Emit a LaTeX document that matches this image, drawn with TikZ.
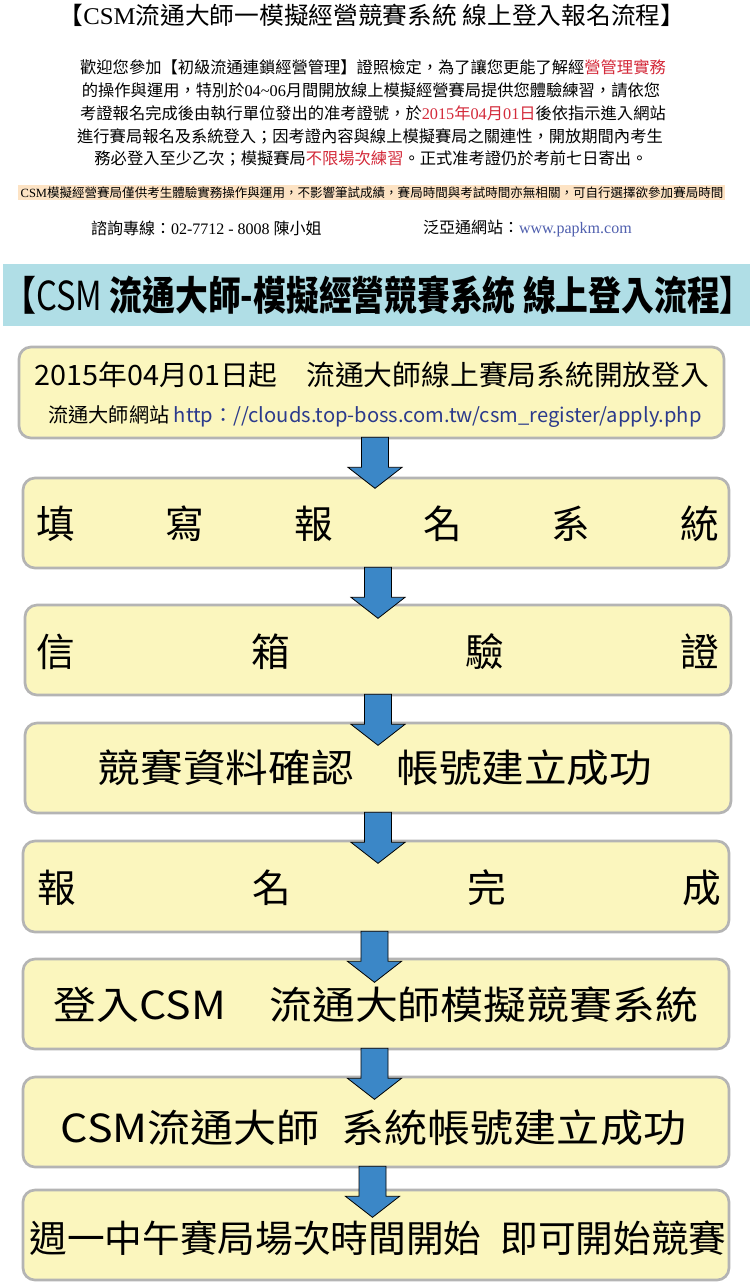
\documentclass[tikz,border=0pt]{standalone}
\usepackage{fontspec}
\usepackage{graphicx}
\setmainfont{Noto Sans CJK TC}
\newfontfamily\tm{Liberation Serif}
\usetikzlibrary{fit,calc}
\definecolor{bannerblue}{HTML}{B0DEE6}
\definecolor{boxfill}{HTML}{FBF6BE}
\definecolor{boxline}{HTML}{B4B4B4}
\definecolor{arrowblue}{HTML}{3B87C7}
\definecolor{redtxt}{HTML}{D42A3A}
\definecolor{peach}{HTML}{FDE3C4}
\definecolor{linkblue}{HTML}{4F5FAE}
\definecolor{urlblue}{HTML}{2B3A8C}
\newcommand\fitw[2]{\resizebox{#1}{\height}{#2}}
\newcommand\fsz[1]{\fontsize{#1}{#1}\selectfont}
\tikzset{
  flowbox/.style={draw=boxline, line width=2pt, fill=boxfill, rounded corners=9pt, inner sep=0pt},
  txt/.style={inner sep=0pt, outer sep=0pt, text=black},
  blockarr/.style={draw=black, line width=0.6pt, fill=arrowblue, line join=miter},
  downarrow/.pic={\path[blockarr] (-13.5,-2) -- (-13.5,28) -- (-27,28) -- (0,49) -- (27,28) -- (13.5,28) -- (13.5,-2) -- cycle;}
}
\begin{document}
\begin{tikzpicture}[x=0.75pt,y=-0.75pt]
\useasboundingbox (0,0) rectangle (753,1282);
\fill[white] (0,0) rectangle (753,1282);

% ---- header text ----
\node[txt, font=\fsz{18pt}] (title) at (372,15) {\fitw{470pt}{【{\tm CSM}流通大師一模擬經營競賽系統 線上登入報名流程】}};

\node[txt, font=\fsz{12.2pt}] (p1) at (373,67) {歡迎您參加【初級流通連鎖經營管理】證照檢定，為了讓您更能了解經{\color{redtxt}營管理實務}};
\node[txt, font=\fsz{12.2pt}] (p2) at (371,90) {的操作與運用，特別於{\tm 04\textasciitilde 06}月間開放線上模擬經營賽局提供您體驗練習，請依您};
\node[txt, font=\fsz{12.2pt}] (p3) at (373,113) {考證報名完成後由執行單位發出的准考證號，於{\color{redtxt}{\tm 2015}年{\tm 04}月{\tm 01}日}後依指示進入網站};
\node[txt, font=\fsz{12.2pt}] (p4) at (370,136) {進行賽局報名及系統登入；因考證內容與線上模擬賽局之關連性，開放期間內考生};
\node[txt, font=\fsz{12.2pt}] (p5) at (371,158) {務必登入至少乙次；模擬賽局{\color{redtxt}不限場次練習}。正式准考證仍於考前七日寄出。};

\node[fill=peach, inner sep=0pt, fit={(18,185) (725,200)}] (hl) {};
\node[txt, font=\fsz{9.4pt}] (hltext) at (372,192.5) {\fitw{527pt}{{\tm CSM}模擬經營賽局僅供考生體驗實務操作與運用，不影響筆試成績，賽局時間與考試時間亦無相關，可自行選擇欲參加賽局時間}};

\node[txt, anchor=west, font=\fsz{12pt}] (tel) at (91,228) {諮詢專線：{\tm 02-7712 - 8008 }陳小姐};
\node[txt, anchor=west, font=\fsz{12pt}] (web) at (423,228) {泛亞通網站：{\tm\color{linkblue}www.papkm.com}};

% ---- banner ----
\node[fill=bannerblue, inner sep=0pt, fit={(3,264) (750,326)}] (banner) {};
\node[txt, font=\fsz{30pt}\bfseries] (bannertext) at (378,295) {\fitw{562pt}{【{\mdseries CSM} 流通大師-模擬經營競賽系統 線上登入流程】}};

% ---- flow boxes ----
\node[flowbox, fit={(19,347) (724,438)}] (b1) {};
\node[flowbox, fit={(23,478) (729,568)}] (b2) {};
\node[flowbox, fit={(25,605) (731,695)}] (b3) {};
\node[flowbox, fit={(25,723) (731,813)}] (b4) {};
\node[flowbox, fit={(23,841) (729,932)}] (b5) {};
\node[flowbox, fit={(23,959) (729,1049)}] (b6) {};
\node[flowbox, fit={(23,1077) (729,1167)}] (b7) {};
\node[flowbox, fit={(23,1190) (729,1280)}] (b8) {};

% ---- arrows ----
\pic at (375,0 |- b1.south) {downarrow};
\pic at (378,0 |- b2.south) {downarrow};
\pic at (378,0 |- b3.south) {downarrow};
\pic at (378,0 |- b4.south) {downarrow};
\pic at (374.5,0 |- b5.south) {downarrow};
\pic at (374.5,0 |- b6.south) {downarrow};
\pic at (372.5,0 |- b7.south) {downarrow};

% ---- box texts ----
\node[txt, font=\fsz{21pt}] (t1a) at (372,375) {\fitw{506pt}{2015年04月01日起　流通大師線上賽局系統開放登入}};
\node[txt, font=\fsz{15pt}] (t1b) at (375,417) {\fitw{490pt}{流通大師網站 {\color{urlblue}http：//clouds.top-boss.com.tw/csm\_register/apply.php}}};
\node[txt, font=\fsz{29pt}] (t2) at (378,524) {\makebox[512pt]{填\hfill 寫\hfill 報\hfill 名\hfill 系\hfill 統}};
\node[txt, font=\fsz{29pt}] (t3) at (378,652) {\makebox[512pt]{信\hfill 箱\hfill 驗\hfill 證}};
\node[txt, font=\fsz{29pt}] (t4) at (375,768) {\fitw{416pt}{競賽資料確認　帳號建立成功}};
\node[txt, font=\fsz{29pt}] (t5) at (379.5,888) {\makebox[513pt]{報\hfill 名\hfill 完\hfill 成}};
\node[txt, font=\fsz{29pt}] (t6) at (376,1005) {\fitw{483pt}{登入CSM　流通大師模擬競賽系統}};
\node[txt, font=\fsz{29pt}] (t7) at (373.5,1128) {\fitw{469pt}{CSM流通大師\hspace{0.5em}系統帳號建立成功}};
\node[txt, font=\fsz{28pt}] (t8) at (378,1238) {\fitw{523pt}{週一中午賽局場次時間開始\hspace{0.5em}即可開始競賽}};
\end{tikzpicture}
\end{document}
